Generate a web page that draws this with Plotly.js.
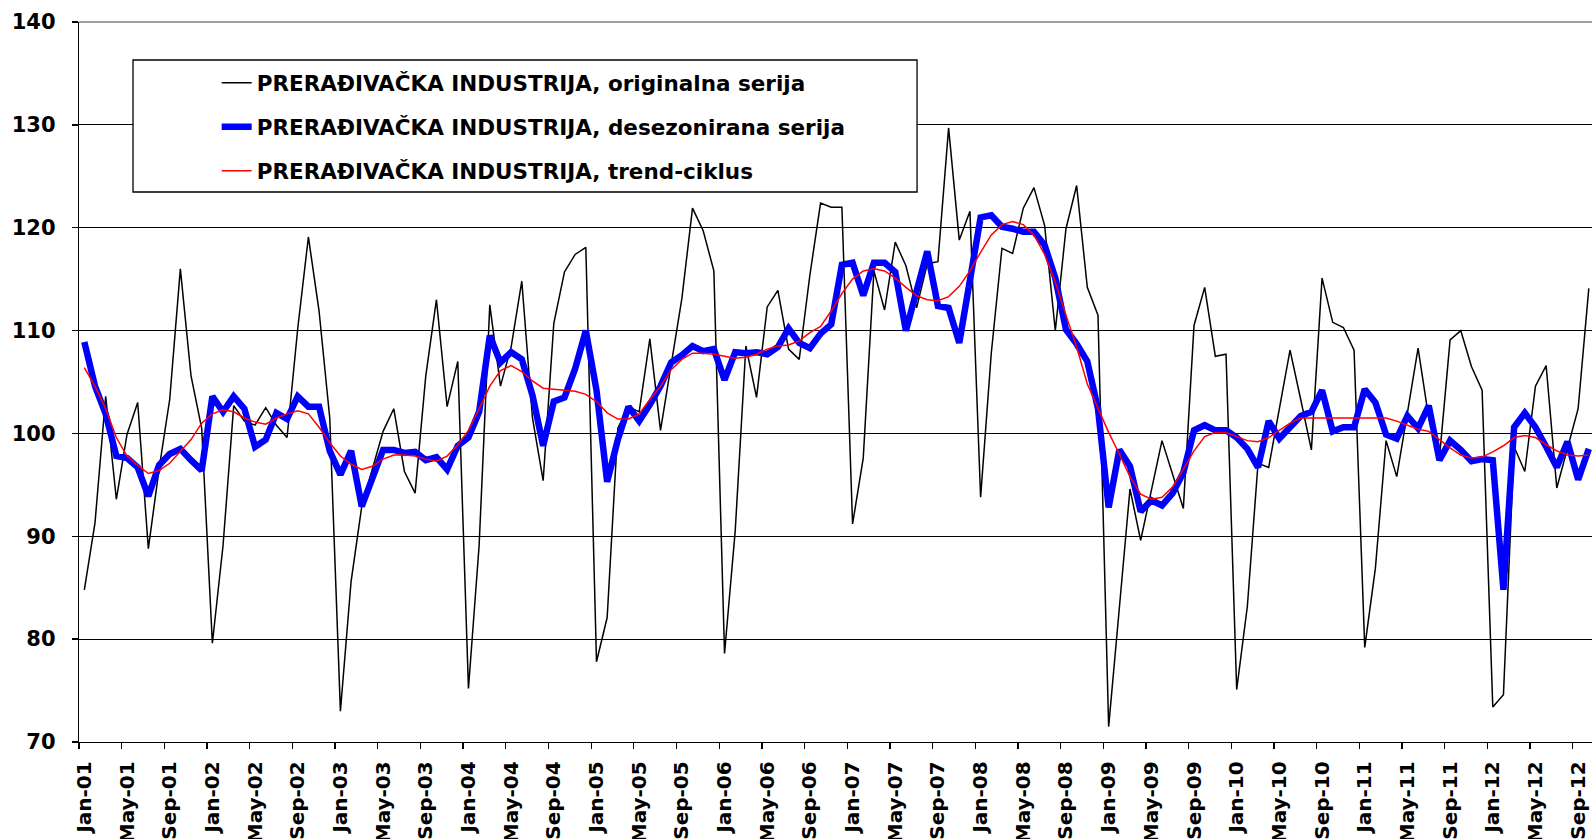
<!DOCTYPE html>
<html>
<head>
<meta charset="utf-8">
<script src="https://cdn.plot.ly/plotly-3.0.1.min.js"></script>
<style>
html,body{margin:0;padding:0;background:#fff;overflow:hidden}
#chart{width:1592px;height:839px}
</style>
</head>
<body>
<div id="chart"></div>
<script>
// month categories Jan-01 .. Oct-12
const monthAbbr = ['Jan','Feb','Mar','Apr','May','Jun','Jul','Aug','Sep','Oct','Nov','Dec'];
const yearSuffix = ['01','02','03','04','05','06','07','08','09','10','11','12'];
const categories = yearSuffix.flatMap(y => monthAbbr.map(m => m + '-' + y)).slice(0, 142);

// PRERAĐIVAČKA INDUSTRIJA, originalna serija
const originalSeries = [
  84.8, 91.3, 103.6, 93.6, 99.9, 103.0, 88.8, 96.5, 103.3, 116.0, 105.6, 100.5,
  79.6, 89.1, 102.7, 101.2, 100.8, 102.5, 100.8, 99.6, 110.2, 119.1, 111.9, 101.5,
  73.0, 85.6, 92.9, 96.6, 100.2, 102.4, 96.3, 94.2, 105.6, 113.0, 102.6, 107.0,
  75.2, 89.1, 112.5, 104.6, 108.4, 114.8, 101.5, 95.4, 110.7, 115.7, 117.4, 118.1,
  77.8, 82.1, 100.5, 102.6, 102.1, 109.2, 100.3, 106.7, 113.1, 121.9, 119.7, 115.8,
  78.6, 90.5, 108.5, 103.5, 112.3, 113.9, 108.2, 107.2, 115.4, 122.4, 122.0, 122.0,
  91.2, 97.6, 115.8, 112.0, 118.6, 116.3, 112.2, 116.5, 116.7, 129.7, 118.8, 121.6,
  93.8, 107.8, 118.0, 117.5, 121.9, 123.9, 120.2, 110.0, 119.9, 124.1, 114.2, 111.5,
  71.5, 83.0, 94.6, 89.6, 94.5, 99.3, 96.0, 92.7, 110.5, 114.2, 107.5, 107.7,
  75.1, 83.2, 97.1, 96.7, 102.4, 108.1, 103.3, 98.4, 115.1, 110.8, 110.3, 108.1,
  79.2, 86.9, 99.3, 95.8, 102.0, 108.3, 101.5, 97.6, 109.1, 110.0, 106.5, 104.2,
  73.4, 74.6, 98.7, 96.3, 104.6, 106.6, 94.7, 98.5, 102.4, 114.1
];

// PRERAĐIVAČKA INDUSTRIJA, desezonirana serija
const seasonallyAdjusted = [
  108.9, 104.6, 101.9, 97.8, 97.6, 96.7, 93.9, 96.9, 98.0, 98.5, 97.4, 96.4,
  103.6, 102.1, 103.6, 102.4, 98.7, 99.4, 102.0, 101.4, 103.6, 102.6, 102.6, 98.3,
  96.0, 98.3, 92.9, 95.8, 98.4, 98.4, 98.1, 98.2, 97.4, 97.7, 96.5, 98.8,
  99.6, 102.1, 109.5, 106.9, 107.9, 107.2, 103.7, 98.8, 103.1, 103.5, 106.3, 110.0,
  104.2, 95.3, 99.4, 102.6, 101.2, 102.8, 104.6, 106.9, 107.6, 108.5, 108.0, 108.2,
  105.2, 107.9, 107.8, 107.9, 107.7, 108.4, 110.2, 108.8, 108.3, 109.7, 110.6, 116.4,
  116.6, 113.4, 116.6, 116.6, 115.7, 110.0, 113.9, 117.7, 112.4, 112.2, 108.8, 114.9,
  121.0, 121.2, 120.1, 119.9, 119.6, 119.6, 118.3, 115.1, 110.1, 108.7, 107.0, 102.4,
  92.8, 98.4, 96.8, 92.4, 93.5, 93.0, 94.2, 96.2, 100.3, 100.8, 100.3, 100.3,
  99.6, 98.5, 96.7, 101.2, 99.5, 100.6, 101.7, 102.1, 104.2, 100.2, 100.6, 100.6,
  104.3, 103.0, 99.9, 99.5, 101.7, 100.5, 102.7, 97.4, 99.3, 98.4, 97.3, 97.5,
  97.4, 84.8, 100.6, 102.0, 100.6, 98.7, 96.7, 99.2, 95.5, 98.5
];

// PRERAĐIVAČKA INDUSTRIJA, trend-ciklus
const trendCycle = [
  106.4, 104.6, 102.4, 99.6, 97.8, 96.9, 96.1, 96.4, 97.1, 98.3, 99.4, 101.0,
  101.9, 102.3, 102.1, 101.5, 101.1, 100.9, 101.5, 101.9, 102.2, 101.9, 100.6, 99.1,
  97.8, 97.0, 96.5, 96.8, 97.5, 97.9, 97.9, 97.8, 97.5, 97.3, 97.8, 98.9,
  100.3, 102.4, 104.6, 106.1, 106.6, 106.0, 105.1, 104.4, 104.3, 104.2, 104.1, 103.8,
  103.1, 102.0, 101.4, 101.4, 101.9, 103.3, 104.6, 106.2, 107.2, 107.8, 107.8, 107.7,
  107.5, 107.3, 107.4, 107.7, 108.2, 108.5, 108.6, 109.0, 109.8, 110.4, 111.9, 113.6,
  115.0, 115.8, 116.0, 115.8, 115.1, 114.2, 113.4, 113.0, 112.9, 113.3, 114.3, 115.8,
  117.6, 119.3, 120.3, 120.6, 120.3, 119.3, 117.4, 114.7, 111.5, 108.4, 104.8, 102.4,
  100.1, 98.0, 95.8, 94.1, 93.6, 93.8, 94.8, 96.5, 98.3, 99.7, 100.1, 100.1,
  99.7, 99.3, 99.2, 99.6, 100.3, 101.0, 101.5, 101.5, 101.5, 101.5, 101.5, 101.5,
  101.5, 101.5, 101.5, 101.2, 100.8, 100.4, 100.2, 99.4, 98.6, 97.9, 97.6, 97.7,
  98.2, 98.8, 99.6, 99.8, 99.6, 98.9, 98.3, 97.9, 97.8, 97.9
];

const seriesNames = [
  'PRERAĐIVAČKA INDUSTRIJA, originalna serija',
  'PRERAĐIVAČKA INDUSTRIJA, desezonirana serija',
  'PRERAĐIVAČKA INDUSTRIJA, trend-ciklus'
];
const yTickValues = [70, 80, 90, 100, 110, 120, 130, 140];

const boldFont = (size) => ({family: 'DejaVu Sans', size: size, color: '#000', weight: 'bold'});

const traces = [
  {x: categories, y: originalSeries, name: seriesNames[0], type: 'scatter', mode: 'lines',
   line: {color: '#000000', width: 1.5}, legendgroup: 'a'},
  {x: categories, y: seasonallyAdjusted, name: seriesNames[1], type: 'scatter', mode: 'lines',
   line: {color: '#0000FF', width: 6.5}, legendgroup: 'b'},
  {x: categories, y: trendCycle, name: seriesNames[2], type: 'scatter', mode: 'lines',
   line: {color: '#FF0000', width: 1.5}, legendgroup: 'c'}
];

const layout = {
  width: 1592, height: 839,
  margin: {l: 79, r: 0, t: 22, b: 97, pad: 0},
  paper_bgcolor: '#fff', plot_bgcolor: '#fff',
  showlegend: true,
  xaxis: {
    type: 'category', categoryorder: 'array', categoryarray: categories,
    range: [-0.5, 141.3],
    tickmode: 'linear', tick0: 0, dtick: 4, tickson: 'boundaries',
    ticks: 'outside', ticklen: 6, tickwidth: 1.3, tickcolor: '#000',
    showline: true, linecolor: '#000', linewidth: 1.3,
    showgrid: false, zeroline: false,
    tickangle: -90, tickfont: boldFont(20), ticklabelstandoff: 10
  },
  yaxis: {
    range: [70, 140], tickmode: 'array', tickvals: yTickValues,
    ticks: 'outside', ticklen: 6, tickwidth: 1.3, tickcolor: '#000',
    showline: true, linecolor: '#000', linewidth: 1.3,
    showgrid: true, gridcolor: '#000', gridwidth: 1,
    zeroline: false, tickfont: boldFont(21), ticklabelstandoff: 12
  },
  legend: {
    x: 0.091, y: 0.944, xanchor: 'left', yanchor: 'top',
    bgcolor: 'rgba(0,0,0,0)', borderwidth: 0,
    font: boldFont(21.5), traceorder: 'grouped', tracegroupgap: 13, itemwidth: 30
  },
  shapes: [
    {type: 'line', xref: 'paper', yref: 'paper', x0: 0, x1: 1, y0: 1, y1: 1,
     line: {color: '#808080', width: 1.3}, layer: 'above'},
    {type: 'rect', xref: 'paper', yref: 'paper', x0: 0.0357, x1: 0.5539, y0: 0.7639, y1: 0.9472,
     fillcolor: '#fff', line: {color: '#000', width: 1.3}, layer: 'above'}
  ]
};

Plotly.newPlot('chart', traces, layout, {displayModeBar: false, staticPlot: true});
</script>
</body>
</html>
